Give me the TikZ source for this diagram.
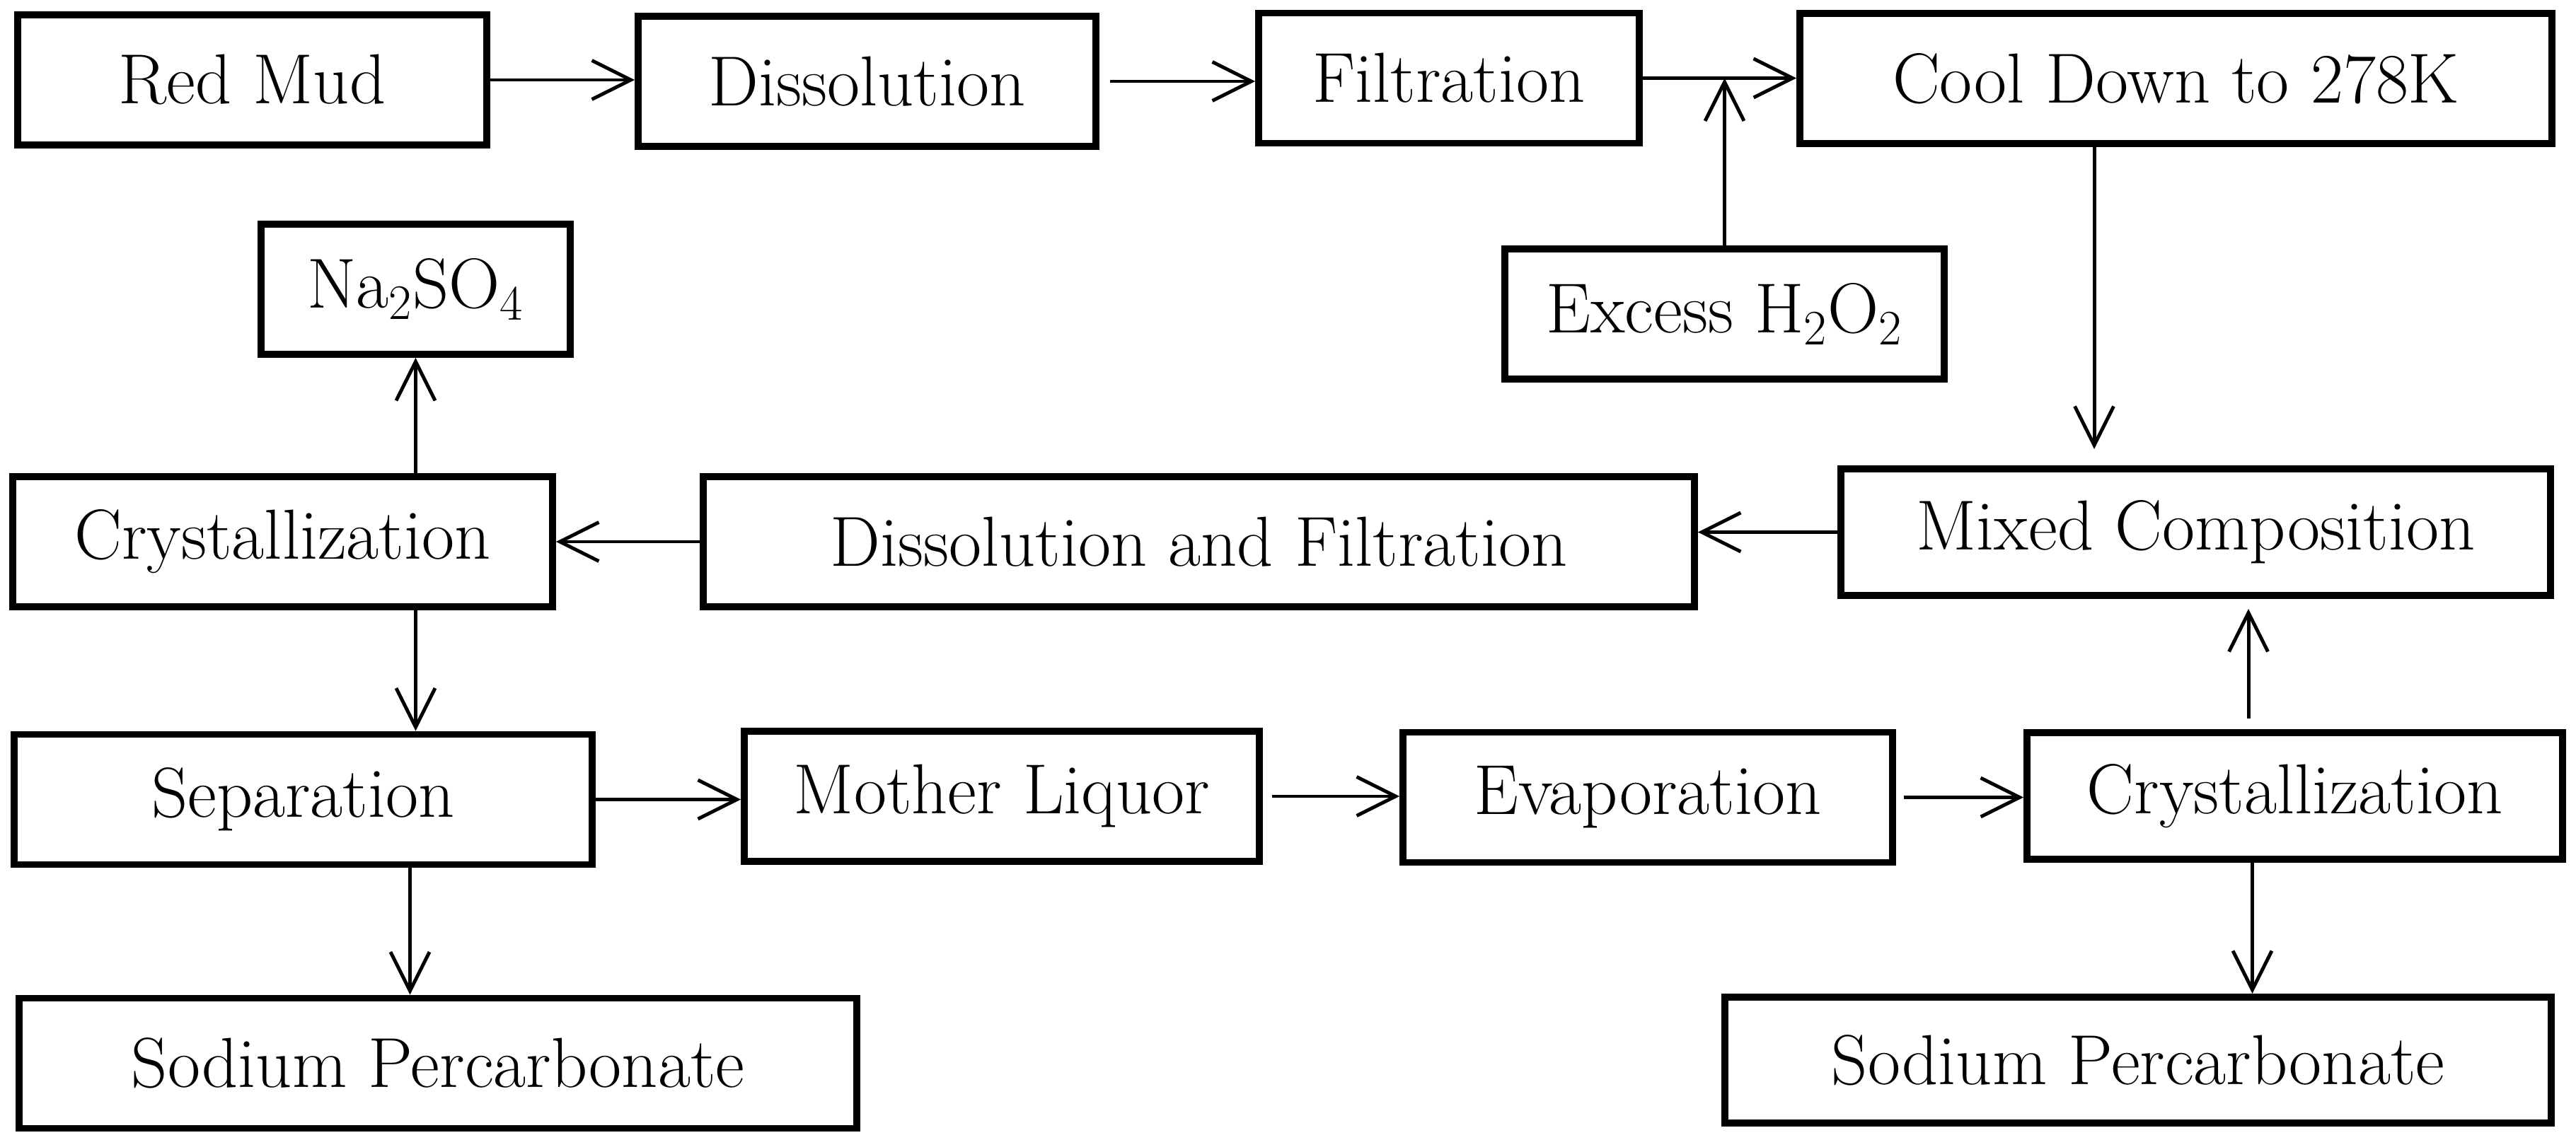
\documentclass[tikz,border=0pt]{standalone}
\usepackage{tikz}
\usetikzlibrary{arrows.meta}
\tikzset{
  procbox/.style={draw, line width=2.8pt, minimum height=1.84cm, inner sep=0pt,
    font=\fontsize{28.5}{32}\selectfont},
  flow/.style={line width=1.4pt, -{Straight Barb[length=0.55cm, width=0.55cm, line width=1.4pt]}}
}

\begin{document}
\begin{tikzpicture}
    \useasboundingbox (0,0) rectangle (36.41,16.11);

    \node[procbox, minimum width=6.63cm] (redmud) at (3.565, 14.98) {Red Mud};
    \node[procbox, minimum width=6.47cm] (dissol) at (12.255, 14.96) {Dissolution};
    \node[procbox, minimum width=5.38cm] (filtr) at (20.48, 15.005) {Filtration};
    \node[procbox, minimum width=10.63cm] (cool) at (30.755, 15.00)
      {Cool Down to 278K\hspace{1.36cm}};
    \node[procbox, minimum width=6.21cm] (excess) at (24.375, 11.67)
      {Excess H\textsubscript{2}O\textsubscript{2}};
    \node[procbox, minimum width=4.37cm] (naso) at (5.875, 12.02)
      {Na\textsubscript{2}SO\textsubscript{4}};

    \node[procbox, minimum width=7.63cm] (crystL) at (3.995, 8.45) {Crystallization};
    \node[procbox, minimum width=14.01cm] (dissfilt) at (16.945, 8.45)
      {Dissolution and Filtration};
    \node[procbox, minimum width=10.03cm, minimum height=1.79cm] (mixed) at (31.035, 8.585)
      {Mixed Composition\hspace{0.58cm}};

    \node[procbox, minimum width=8.17cm] (separ) at (4.285, 4.805) {Separation};
    \node[procbox, minimum width=7.28cm] (mother) at (14.16, 4.85) {Mother Liquor};
    \node[procbox, minimum width=6.92cm] (evap) at (23.29, 4.835) {Evaporation};
    \node[procbox, minimum width=7.57cm, minimum height=1.79cm] (crystR) at (32.435, 4.855)
      {Crystallization\hspace{0.3cm}};

    \node[procbox, minimum width=11.84cm] (sodL) at (6.19, 1.075) {Sodium Percarbonate};
    \node[procbox, minimum width=11.68cm, minimum height=1.78cm] (sodR) at (30.22, 1.12)
      {Sodium Percarbonate};

    \draw[flow] (redmud.east) -- (redmud.east -| dissol.west);
    \draw[flow, shorten <=0.15cm] (dissol.east) -- (dissol.east -| filtr.west);
    \draw[flow] (filtr.east) -- (filtr.east -| cool.west);
    \draw[flow] (excess.north) -- (excess.north |- filtr.east);
    \draw[flow, shorten >=0.23cm] ([xshift=-1.155cm]cool.south)
      -- ([xshift=-1.155cm]cool.south |- mixed.north);

    \draw[flow] (mixed.west) -- (mixed.west -| dissfilt.east);
    \draw[flow] (dissfilt.west) -- (dissfilt.west -| crystL.east);
    \draw[flow] (naso.south |- crystL.north) -- (naso.south);
    \draw[flow] (naso.south |- crystL.south) -- (naso.south |- separ.north);

    \draw[flow] (separ.east) -- (separ.east -| mother.west);
    \draw[flow, shorten <=0.13cm] (mother.east) -- (mother.east -| evap.west);
    \draw[flow, shorten <=0.11cm] (evap.east) -- (evap.east -| crystR.west);
    \draw[flow, shorten <=0.15cm, shorten >=0.14cm] ([xshift=-0.655cm]crystR.north)
      -- ([xshift=-0.655cm]crystR.north |- mixed.south);
    \draw[flow] ([xshift=-0.6cm]crystR.south) -- ([xshift=-0.6cm]crystR.south |- sodR.north);
    \draw[flow] ([xshift=-0.08cm]naso.south |- separ.south)
      -- ([xshift=-0.08cm]naso.south |- sodL.north);
\end{tikzpicture}
\end{document}
